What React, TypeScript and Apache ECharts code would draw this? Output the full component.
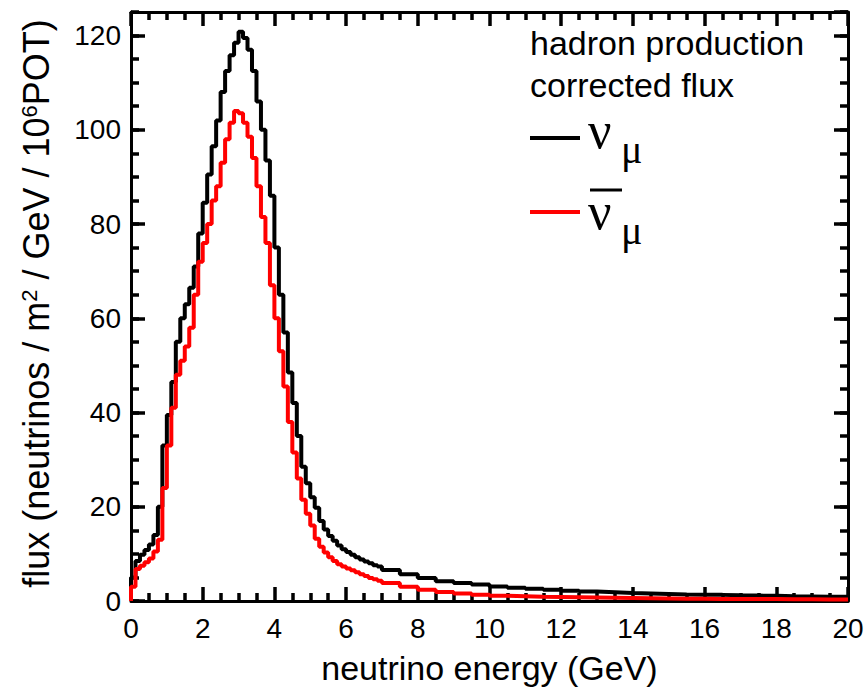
import React, { useEffect, useRef } from "react";
import * as echarts from "echarts";

// Histogram binning: fine bins 0-7 GeV (0.125 GeV), coarse bins 7-20 GeV (0.5 GeV)
const FINE_BIN = 0.125;
const COARSE_START = 7;
const COARSE_BIN = 0.5;
const E_MAX = 20;

// nu_mu flux, fine bins starting at 0 GeV
const numuFine = [
  5, 8.5, 9.8, 10.8, 12, 14, 20, 33, 39.5, 46.5,
  55, 60, 63, 66.5, 71, 78, 84.5, 90.5, 96.5, 102,
  108, 112.5, 115.8, 118.5, 120.8, 119.5, 117, 112.5, 106, 100,
  93.5, 86, 75, 65, 57, 48.5, 42, 35, 28.5, 25,
  22, 19.8, 17, 15.2, 13.8, 12.8, 11.8, 11, 10.4, 9.8,
  9.3, 8.8, 8.4, 8.0, 7.6, 7.3,
];
// nu_mu flux, coarse bins starting at 7 GeV
const numuCoarse = [
  6.6, 5.7, 4.9, 4.2, 3.8, 3.5, 3.1, 2.8, 2.6, 2.4,
  2.2, 2.0, 1.85, 1.7, 1.6, 1.5, 1.4, 1.35, 1.3, 1.2,
  1.15, 1.1, 1.0, 0.95, 0.9, 0.9,
];
// anti-nu_mu flux, fine bins
const numubarFine = [
  3, 6.8, 7.5, 8.2, 9, 10.5, 13, 24, 33, 41,
  48, 51, 54, 58, 65, 72, 76, 80, 85, 88,
  93, 98, 101.5, 104, 103.5, 101.5, 98.5, 94, 88, 81.5,
  76, 67, 60, 53, 45.5, 38, 31.5, 26, 21.5, 18.5,
  16, 13.2, 11.5, 10.3, 9.3, 8.5, 7.8, 7.3, 6.9, 6.5,
  6.1, 5.7, 5.3, 4.9, 4.6, 4.3,
];
// anti-nu_mu flux, coarse bins
const numubarCoarse = [
  3.8, 3.0, 2.4, 1.9, 1.6, 1.3, 1.1, 1.0, 0.9, 0.85,
  0.8, 0.75, 0.7, 0.65, 0.6, 0.55, 0.5, 0.5, 0.45, 0.45,
  0.4, 0.4, 0.35, 0.35, 0.3, 0.3,
];

const xTicks = [0, 2, 4, 6, 8, 10, 12, 14, 16, 18, 20];
const yTicks = [0, 20, 40, 60, 80, 100, 120];

const legendHeader = ["hadron production", "corrected flux"];
const seriesNames = ["ν_μ", "anti ν_μ"];

function steps(fine: number[], coarse: number[]) {
  const pts: number[][] = [[0, 0]];
  fine.forEach((v, i) => pts.push([i * FINE_BIN, v]));
  coarse.forEach((v, i) => pts.push([COARSE_START + i * COARSE_BIN, v]));
  pts.push([E_MAX, coarse[coarse.length - 1]]);
  return pts;
}

const SANS = "'Liberation Sans', Arial, Helvetica, sans-serif";
const SERIF = "'Liberation Serif', 'DejaVu Serif', 'Times New Roman', serif";
const BLK = "#000000";

const frameLine = () => ({ show: true, onZero: false, lineStyle: { color: BLK, width: 3 } });
const noLine = () => ({ show: false, onZero: false });
const majorTick = () => ({ show: true, inside: true, length: 14, lineStyle: { color: BLK, width: 3.5 } });
const minorTickAx = () => ({ show: true, inside: true, length: 8, lineStyle: { color: BLK, width: 3.5 } });
const xMinor = () => ({ show: true, splitNumber: 4, length: 8, lineStyle: { color: BLK, width: 3.5 } });

export default function App() {
  const ref = useRef<HTMLDivElement>(null);
  useEffect(() => {
    if (!ref.current) return;
    const chart = echarts.init(ref.current, null, { renderer: "svg" });
    const yMax = 125;

    chart.setOption({
      animation: false,
      backgroundColor: "#fff",
      grid: { left: 131, right: 20, top: 12, bottom: 83, show: false },
      xAxis: [
        {
          type: "value", min: 0, max: E_MAX, interval: 2, position: "bottom",
          axisLine: frameLine(), axisTick: majorTick(), minorTick: xMinor(),
          splitLine: { show: false }, minorSplitLine: { show: false },
          axisLabel: { color: BLK, fontSize: 28, fontFamily: SANS, margin: 13, formatter: (v: number) => (xTicks.includes(v) ? String(v) : "") },
          name: "neutrino energy (GeV)", nameLocation: "middle", nameGap: 50,
          nameTextStyle: { color: BLK, fontSize: 34, fontFamily: SANS },
        },
        {
          type: "value", min: 0, max: E_MAX, interval: 2, position: "top",
          axisLine: frameLine(), axisTick: majorTick(), minorTick: xMinor(),
          splitLine: { show: false }, axisLabel: { show: false },
        },
      ],
      yAxis: [
        {
          type: "value", min: 0, max: yMax, interval: 20, position: "left",
          axisLine: frameLine(), axisTick: majorTick(), splitLine: { show: false },
          axisLabel: { color: BLK, fontSize: 28, fontFamily: SANS, margin: 10, showMaxLabel: false, formatter: (v: number) => (yTicks.includes(v) ? String(v) : "") },
          name: "flux (neutrinos / m{sup|2} / GeV / 10{sup|6}POT)",
          nameLocation: "middle", nameGap: 77,
          nameTextStyle: {
            color: BLK, fontSize: 36, fontFamily: SANS, padding: [0, 0, 0, 6],
            rich: { sup: { fontSize: 22, fontFamily: SANS, color: BLK, verticalAlign: "top", lineHeight: 22 } },
          },
        },
        {
          type: "value", min: 0, max: yMax, interval: 20, position: "right",
          axisLine: frameLine(), axisTick: majorTick(), splitLine: { show: false }, axisLabel: { show: false },
        },
        {
          type: "value", min: 0, max: yMax, interval: 5, position: "left",
          axisLine: noLine(), axisTick: minorTickAx(), splitLine: { show: false }, axisLabel: { show: false },
        },
        {
          type: "value", min: 0, max: yMax, interval: 5, position: "right",
          axisLine: noLine(), axisTick: minorTickAx(), splitLine: { show: false }, axisLabel: { show: false },
        },
      ],
      series: [
        {
          name: seriesNames[0], type: "line", step: "end", showSymbol: false, symbol: "none",
          xAxisIndex: 0, yAxisIndex: 0, data: steps(numuFine, numuCoarse),
          lineStyle: { color: BLK, width: 4 }, z: 3,
        },
        {
          name: seriesNames[1], type: "line", step: "end", showSymbol: false, symbol: "none",
          xAxisIndex: 0, yAxisIndex: 0, data: steps(numubarFine, numubarCoarse),
          lineStyle: { color: "#ff0000", width: 4 }, z: 4,
        },
      ],
      graphic: [
        { type: "text", x: 530, y: 43, style: { text: legendHeader[0], fontSize: 34, fontFamily: SANS, fill: BLK, align: "left", verticalAlign: "middle" } },
        { type: "text", x: 530, y: 85, style: { text: legendHeader[1], fontSize: 34, fontFamily: SANS, fill: BLK, align: "left", verticalAlign: "middle" } },
        { type: "line", shape: { x1: 530, y1: 138, x2: 580, y2: 138 }, style: { stroke: BLK, lineWidth: 4 } },
        { type: "text", x: 588, y: 130, style: { text: "ν", fontSize: 52, lineHeight: 34, fontFamily: SERIF, fill: BLK, align: "left", verticalAlign: "middle" } },
        { type: "text", x: 621, y: 149, style: { text: "μ", fontSize: 40, lineHeight: 30, fontFamily: SERIF, fill: BLK, align: "left", verticalAlign: "middle" } },
        { type: "line", shape: { x1: 530, y1: 212, x2: 580, y2: 212 }, style: { stroke: "#ff0000", lineWidth: 4 } },
        { type: "line", shape: { x1: 590, y1: 190, x2: 622, y2: 190 }, style: { stroke: BLK, lineWidth: 3 } },
        { type: "text", x: 588, y: 211, style: { text: "ν", fontSize: 52, lineHeight: 34, fontFamily: SERIF, fill: BLK, align: "left", verticalAlign: "middle" } },
        { type: "text", x: 621, y: 230, style: { text: "μ", fontSize: 40, lineHeight: 30, fontFamily: SERIF, fill: BLK, align: "left", verticalAlign: "middle" } },
      ],
    });
    return () => chart.dispose();
  }, []);
  return <div ref={ref} style={{ position: "absolute", left: 0, top: 0, width: 868, height: 690 }} />;
}
